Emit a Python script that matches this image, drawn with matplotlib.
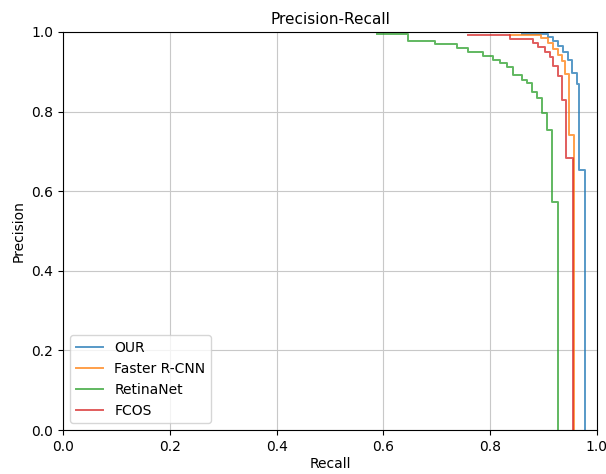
import matplotlib
matplotlib.use("Agg")
import matplotlib.pyplot as plt

# step curves: recall where each precision level begins, precision held until next recall
our_recall = [0.860, 0.909, 0.918, 0.928, 0.937, 0.946, 0.953, 0.962, 0.967, 0.978]
our_precision = [0.996, 0.988, 0.977, 0.964, 0.950, 0.930, 0.897, 0.870, 0.653, 0.0]

frcnn_recall = [0.837, 0.896, 0.909, 0.918, 0.928, 0.935, 0.940, 0.948, 0.957]
frcnn_precision = [0.993, 0.985, 0.972, 0.958, 0.943, 0.926, 0.895, 0.741, 0.0]

retina_recall = [0.588, 0.646, 0.697, 0.738, 0.759, 0.787, 0.805, 0.818, 0.831, 0.843,
                 0.860, 0.869, 0.878, 0.888, 0.897, 0.906, 0.916, 0.927]
retina_precision = [0.995, 0.977, 0.970, 0.960, 0.950, 0.940, 0.930, 0.922, 0.912, 0.892,
                    0.879, 0.872, 0.849, 0.834, 0.796, 0.754, 0.573, 0.0]

fcos_recall = [0.758, 0.837, 0.881, 0.890, 0.903, 0.912, 0.918, 0.928, 0.934, 0.943, 0.956]
fcos_precision = [0.992, 0.982, 0.972, 0.962, 0.950, 0.938, 0.915, 0.889, 0.829, 0.683, 0.0]

fig = plt.figure(figsize=(6.06, 4.74), dpi=100)
ax = fig.add_axes([0.104, 0.0928, 0.881, 0.8397])
ax.step(our_recall, our_precision, where="post", label="OUR", lw=1.4, alpha=0.75)
ax.step(frcnn_recall, frcnn_precision, where="post", label="Faster R-CNN", lw=1.4, alpha=0.75)
ax.step(retina_recall, retina_precision, where="post", label="RetinaNet", lw=1.4, alpha=0.75)
ax.step(fcos_recall, fcos_precision, where="post", label="FCOS", lw=1.4, alpha=0.75)
ax.set_xlim(0, 1)
ax.set_ylim(0, 1)
ax.grid(True, color="#c8c8c8")
ax.set_xlabel("Recall", labelpad=2)
ax.set_ylabel("Precision")
ax.set_title("Precision-Recall", fontsize=11)
ax.legend(loc="lower left")
fig.savefig("out.png")
plt.close(fig)
